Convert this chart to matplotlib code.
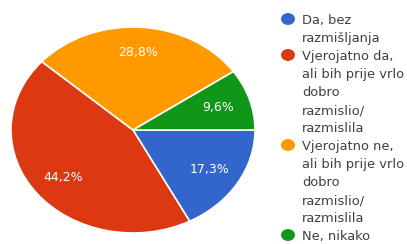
import numpy as np
import matplotlib.pyplot as plt
from matplotlib.patches import Ellipse

# podaci
labels = ['Da, bez\nrazmišljanja',
          'Vjerojatno da,\nali bih prije vrlo\ndobro\nrazmislio/\nrazmislila',
          'Vjerojatno ne,\nali bih prije vrlo\ndobro\nrazmislio/\nrazmislila',
          'Ne, nikako']
values = [17.3, 44.2, 28.8, 9.6]
pct_labels = ['17,3%', '44,2%', '28,8%', '9,6%']
colors = ['#3366cc', '#dc3912', '#ff9900', '#109618']

plt.rcParams['font.family'] = ['DejaVu Sans']

fig = plt.figure(figsize=(4.07, 2.44), dpi=100)

# pita (malo razvucena vodoravno kao na slici)
ax = fig.add_axes([11 / 407, 11 / 244, 244 / 407, 206 / 244])
wedges, _ = ax.pie(values, colors=colors, startangle=0, counterclock=False,
                   wedgeprops=dict(edgecolor='white', linewidth=1.2))
ax.set_aspect('auto')
ax.set_xlim(-1, 1)
ax.set_ylim(-1, 1)

for w, txt in zip(wedges, pct_labels):
    ang = np.deg2rad((w.theta1 + w.theta2) / 2)
    ax.text(0.73 * np.cos(ang), 0.75 * np.sin(ang), txt, ha='center', va='center',
            color='white', fontsize=9)

# legenda (koordinate u pikselima)
lax = fig.add_axes([0, 0, 1, 1])
lax.set_xlim(0, 407)
lax.set_ylim(244, 0)
lax.axis('off')

line_h = 18.0
y = 19
for lab, c in zip(labels, colors):
    lax.add_patch(Ellipse((288, y), 12.5, 10.5, color=c))
    for ln in lab.split('\n'):
        lax.text(302, y + 5, ln, ha='left', va='baseline', color='#404040',
                 fontsize=9.4)
        y += line_h

fig.savefig('out.png', dpi=100)
